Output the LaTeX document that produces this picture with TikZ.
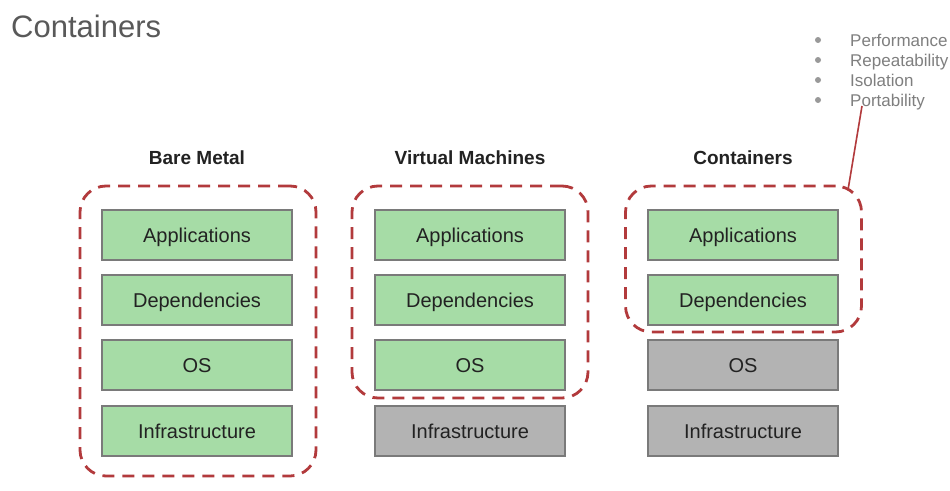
\documentclass[tikz,border=0pt]{standalone}
\usepackage{fontspec}
\setmainfont{Liberation Sans}
\usetikzlibrary{positioning}
\definecolor{lgreen}{HTML}{A6DCA6}
\definecolor{lgray}{HTML}{B3B3B3}
\definecolor{edge}{HTML}{7A7A7A}
\definecolor{dred}{HTML}{B23A3C}
\definecolor{txt}{HTML}{222222}
\definecolor{ttl}{HTML}{595959}
\definecolor{btxt}{HTML}{7F7F7F}
\begin{document}
\begin{tikzpicture}[x=1pt,y=-1pt,
  layer/.style={draw=edge,line width=1.2pt,minimum width=190pt,minimum height=50pt,inner sep=0pt,
    text height=15pt,text depth=0pt,
    font=\fontsize{20}{22}\selectfont,text=txt},
  greenbox/.style={layer,fill=lgreen},
  graybox/.style={layer,fill=lgray},
  dashbox/.style={draw=dred,line width=2.8pt,dash pattern=on 12pt off 8pt,rounded corners=26pt,
    minimum width=236pt,inner sep=0pt},
  coltitle/.style={font=\bfseries\fontsize{19}{21}\selectfont,text=txt},
  bullettext/.style={anchor=west,font=\fontsize{17}{19}\selectfont,text=btxt,inner sep=0pt,
    text height=12pt,text depth=0pt},
  bdot/.style={circle,fill=btxt!80,inner sep=0pt,minimum size=6pt}]
\useasboundingbox[fill=white] (0,0) rectangle (950,490);

% page title
\node[anchor=west,font=\fontsize{31}{34}\selectfont,text=ttl,inner sep=0pt] (title) at (11,26) {Containers};

% column titles
\node[coltitle] (t1) at (197,158) {Bare Metal};
\node[coltitle] (t2) at (470,158) {Virtual Machines};
\node[coltitle] (t3) at (743,158) {Containers};

% column 1: bare metal
\node[greenbox] (a1) at (197,235) {Applications};
\node[greenbox] (d1) at (197,300) {Dependencies};
\node[greenbox] (o1) at (197,365) {OS};
\node[greenbox] (i1) at (197,431) {Infrastructure};

% column 2: virtual machines
\node[greenbox] (a2) at (470,235) {Applications};
\node[greenbox] (d2) at (470,300) {Dependencies};
\node[greenbox] (o2) at (470,365) {OS};
\node[graybox] (i2) at (470,431) {Infrastructure};

% column 3: containers
\node[greenbox] (a3) at (743,235) {Applications};
\node[greenbox] (d3) at (743,300) {Dependencies};
\node[graybox] (o3) at (743,365) {OS};
\node[graybox] (i3) at (743,431) {Infrastructure};

% dashed groupings
\node[dashbox,minimum height=290pt] (g1) at (198,331) {};
\node[dashbox,minimum height=212pt] (g2) at (470,292) {};
\node[dashbox,minimum height=146pt] (g3) at (743.5,259) {};

% bullets
\node[bullettext] (b1) at (850,40) {Performance};
\node[bullettext] (b2) at (850,60) {Repeatability};
\node[bullettext] (b3) at (850,80) {Isolation};
\node[bullettext] (b4) at (850,100) {Portability};
\node[bdot] (p1) at (818,40) {};
\node[bdot] (p2) at (818,60) {};
\node[bdot] (p3) at (818,80) {};
\node[bdot] (p4) at (818,100) {};

% pointer line
\coordinate (lk) at (848,190);
\coordinate (lt) at (862,106);
\draw[dred,line width=1.6pt] (lk) -- (lt);
\end{tikzpicture}
\end{document}
